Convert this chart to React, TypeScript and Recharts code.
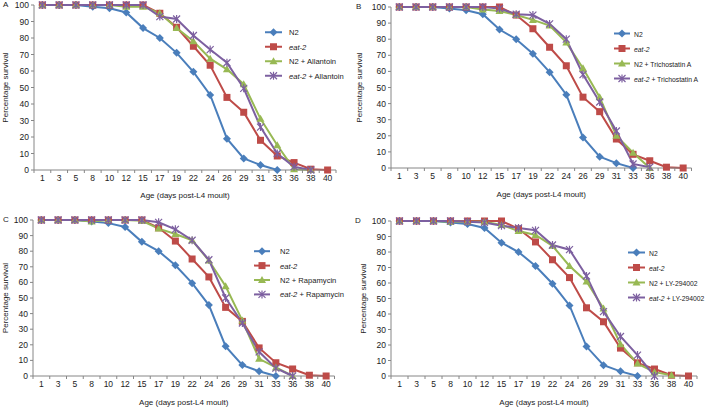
import { Legend, Line, LineChart, XAxis, YAxis } from "recharts";

// x categories (days post-L4 moult) and y ticks
const days = ["1", "3", "5", "8", "10", "12", "15", "17", "19", "22", "24", "26", "29", "31", "33", "36", "38", "40"];
const yTicks = [0, 10, 20, 30, 40, 50, 60, 70, 80, 90, 100];

// controls, same in every panel
const n2 = [100, 100, 100, 99, 98, 95.5, 86, 80, 71, 59.5, 45.5, 19, 7, 3, 0, null, null, null];
const eat2 = [100, 100, 100, 100, 100, 100, 100, 95, 86.5, 75, 63.5, 44, 35, 18, 8.5, 4.5, 0.5, 0];

// A
const n2Allantoin = [100, 100, 100, 100, 100, 99, 99, 95, 86, 78, 67.5, 61, 52, 31, 15, 0.5, 0, null];
const eat2Allantoin = [100, 100, 100, 100, 100, 100, 100, 93, 91.5, 81.5, 73, 65, 49.5, 26, 10, 2, 0, null];
// B
const n2Trichostatin = [100, 100, 100, 100, 100, 98.5, 97.5, 95, 92, 88.5, 78, 62, 44, 20, 9.5, 0, null, null];
const eat2Trichostatin = [100, 100, 100, 100, 100, 100, 99, 95.5, 95, 89.5, 80, 58, 41, 23, 2.5, 0.5, null, null];
// C
const n2Rapamycin = [100, 100, 100, 99, 100, 100, 99.5, 94.5, 91, 87, 74, 57.5, 35.5, 11, 5.5, 0, null, null];
const eat2Rapamycin = [100, 100, 100, 100, 100, 100, 100, 98.5, 94, 87, 74.5, 50, 34, 15.5, 5, 0, null, null];
// D
const n2Ly = [100, 100, 100, 99.5, 99.5, 99.5, 97.5, 93.5, 91, 84, 71, 61, 43.5, 20.5, 8, 2.5, 0.5, null];
const eat2Ly = [100, 100, 100, 100, 99.5, 99, 97, 95.5, 94, 84.5, 81.5, 64.5, 41.5, 25.5, 13.5, 0, null, null];

const BLUE = "#4A7EBB";
const RED = "#BE4B48";
const GREEN = "#98B954";
const PURPLE = "#7D60A0";
const AXIS = "#868686";
const INK = "#222";
const FONT = "'Liberation Sans', Arial, sans-serif";

// label ticks at each day, tick marks between them (Excel style)
const xTicks = [...days.flatMap((_, i) => [i - 0.5, i]), days.length - 0.5];

function Marker({ shape, cx, cy, color }: any) {
  if (shape === "diamond")
    return <path d={`M${cx},${cy - 4}L${cx + 4},${cy}L${cx},${cy + 4}L${cx - 4},${cy}Z`} fill={color} />;
  if (shape === "square") return <rect x={cx - 3.5} y={cy - 3.5} width={7} height={7} fill={color} />;
  if (shape === "triangle")
    return <path d={`M${cx},${cy - 4}L${cx + 4},${cy + 3}L${cx - 4},${cy + 3}Z`} fill={color} />;
  return (
    <path
      d={`M${cx - 3.5},${cy - 3.5}L${cx + 3.5},${cy + 3.5}M${cx - 3.5},${cy + 3.5}L${cx + 3.5},${cy - 3.5}M${cx},${cy - 4}L${cx},${cy + 4}`}
      stroke={color}
      strokeWidth={1.2}
      fill="none"
    />
  );
}

const dotFor = (shape: string, color: string, name: string) => (p: any) => {
  const key = `${name}-${p.index}`;
  if (p.value == null || p.cx == null || p.cy == null) return <g key={key} />;
  return <Marker key={key} shape={shape} cx={p.cx} cy={p.cy} color={color} />;
};

function DayTick({ x, y, payload }: any) {
  const v = payload.value;
  if (Number.isInteger(v))
    return (
      <text x={x} y={y + 11} textAnchor="middle" fontSize={8.5} fill={INK} fontFamily={FONT}>
        {days[v]}
      </text>
    );
  return <line x1={x} x2={x} y1={y} y2={y + 3} stroke={AXIS} />;
}

function LegendBox({ drug, rowGap, lineW, textX, fontSize }: any) {
  const rows = [
    { color: BLUE, shape: "diamond", label: <tspan>N2</tspan> },
    { color: RED, shape: "square", label: <tspan fontStyle="italic">eat-2</tspan> },
    { color: GREEN, shape: "triangle", label: <tspan>{`N2 + ${drug}`}</tspan> },
    {
      color: PURPLE,
      shape: "x",
      label: (
        <>
          <tspan fontStyle="italic">eat-2</tspan>
          <tspan>{` + ${drug}`}</tspan>
        </>
      ),
    },
  ];
  return (
    <svg width={100} height={rowGap * 4} style={{ display: "block", overflow: "visible" }}>
      {rows.map((r, i) => {
        const y = rowGap * (i + 0.5);
        return (
          <g key={i}>
            <line x1={0} x2={lineW} y1={y} y2={y} stroke={r.color} strokeWidth={2} />
            <Marker shape={r.shape} cx={lineW / 2} cy={y} color={r.color} />
            <text x={textX} y={y + 3} fontSize={fontSize} fill={INK} fontFamily={FONT} style={{ whiteSpace: "pre" }}>
              {r.label}
            </text>
          </g>
        );
      })}
    </svg>
  );
}

function Panel(props: any) {
  const { letter, drug, treatedN2, treatedEat2, box, margin, yAxisWidth, xAxisHeight, legend, letterAt, yTitleX, xTitleOffset } = props;
  const rows = days.map((day, i) => ({
    idx: i,
    day,
    n2: n2[i],
    eat2: eat2[i],
    tN2: treatedN2[i],
    tEat2: treatedEat2[i],
  }));
  const yTitle = (p: any) => {
    const vb = p.viewBox;
    const cy = vb.y + vb.height / 2;
    return (
      <text
        transform={`translate(${vb.x + yTitleX},${cy}) rotate(-90)`}
        textAnchor="middle"
        dominantBaseline="central"
        fontSize={8}
        fill={INK}
        fontFamily={FONT}
      >
        Percentage survival
      </text>
    );
  };
  return (
    <div style={{ position: "absolute", left: box.left, top: box.top, width: box.width, height: box.height }}>
      <div style={{ position: "absolute", left: letterAt[0], top: letterAt[1], fontSize: 8, color: INK, lineHeight: "8px" }}>
        {letter}
      </div>
      <LineChart width={box.width} height={box.height} data={rows} margin={margin}>
        <XAxis
          dataKey="idx"
          type="number"
          domain={[-0.5, days.length - 0.5]}
          ticks={xTicks}
          interval={0}
          tickLine={false}
          tickSize={0}
          tickMargin={0}
          tick={<DayTick />}
          height={xAxisHeight}
          stroke={AXIS}
          label={{ value: "Age (days post-L4 moult)", position: "insideBottom", offset: xTitleOffset, fontSize: 8, fill: INK }}
        />
        <YAxis
          domain={[0, 100]}
          ticks={yTicks}
          interval={0}
          width={yAxisWidth}
          stroke={AXIS}
          tickSize={3}
          tickMargin={2}
          tick={{ fontSize: 8.5, fill: INK }}
          label={yTitle}
        />
        <Legend
          layout="vertical"
          align="center"
          verticalAlign="middle"
          wrapperStyle={{ left: legend.x, top: legend.y, width: 100 }}
          content={() => (
            <LegendBox drug={drug} rowGap={legend.gap} lineW={legend.lineW} textX={legend.textX} fontSize={legend.fontSize} />
          )}
        />
        <Line dataKey="n2" stroke={BLUE} strokeWidth={2} dot={dotFor("diamond", BLUE, "n2")} activeDot={false} isAnimationActive={false} />
        <Line dataKey="eat2" stroke={RED} strokeWidth={2} dot={dotFor("square", RED, "eat2")} activeDot={false} isAnimationActive={false} />
        <Line dataKey="tN2" stroke={GREEN} strokeWidth={2} dot={dotFor("triangle", GREEN, "tN2")} activeDot={false} isAnimationActive={false} />
        <Line dataKey="tEat2" stroke={PURPLE} strokeWidth={2} dot={dotFor("x", PURPLE, "tEat2")} activeDot={false} isAnimationActive={false} />
      </LineChart>
    </div>
  );
}

export default function App() {
  return (
    <div style={{ position: "absolute", left: 0, top: 0, width: 709, height: 407, background: "#fff", fontFamily: FONT }}>
      <Panel
        letter="A"
        drug="Allantoin"
        treatedN2={n2Allantoin}
        treatedEat2={eat2Allantoin}
        box={{ left: 0, top: 0, width: 355, height: 200 }}
        margin={{ top: 5, right: 19, bottom: 0, left: 0 }}
        yAxisWidth={34}
        xAxisHeight={30}
        legend={{ x: 265, y: 25, gap: 14.5, lineW: 17, textX: 24, fontSize: 7.6 }}
        letterAt={[3, 1]}
        yTitleX={5}
        xTitleOffset={2}
      />
      <Panel
        letter="B"
        drug="Trichostatin A"
        treatedN2={n2Trichostatin}
        treatedEat2={eat2Trichostatin}
        box={{ left: 355, top: 0, width: 354, height: 200 }}
        margin={{ top: 7, right: 17.5, bottom: 0, left: 0 }}
        yAxisWidth={36}
        xAxisHeight={32}
        legend={{ x: 259, y: 25.5, gap: 15, lineW: 16, textX: 20, fontSize: 6.8 }}
        letterAt={[1, 3]}
        yTitleX={4}
        xTitleOffset={3}
      />
      <Panel
        letter="C"
        drug="Rapamycin"
        treatedN2={n2Rapamycin}
        treatedEat2={eat2Rapamycin}
        box={{ left: 0, top: 200, width: 355, height: 207 }}
        margin={{ top: 20, right: 20.5, bottom: 0, left: 0 }}
        yAxisWidth={33}
        xAxisHeight={31}
        legend={{ x: 254, y: 43.8, gap: 14.4, lineW: 16, textX: 26, fontSize: 7.6 }}
        letterAt={[3, 16]}
        yTitleX={5}
        xTitleOffset={2}
      />
      <Panel
        letter="D"
        drug="LY-294002"
        treatedN2={n2Ly}
        treatedEat2={eat2Ly}
        box={{ left: 355, top: 200, width: 354, height: 207 }}
        margin={{ top: 21, right: 12, bottom: 0, left: 0 }}
        yAxisWidth={36}
        xAxisHeight={31}
        legend={{ x: 273, y: 45.2, gap: 15, lineW: 17, textX: 21, fontSize: 6.8 }}
        letterAt={[0, 17]}
        yTitleX={8}
        xTitleOffset={2}
      />
    </div>
  );
}
